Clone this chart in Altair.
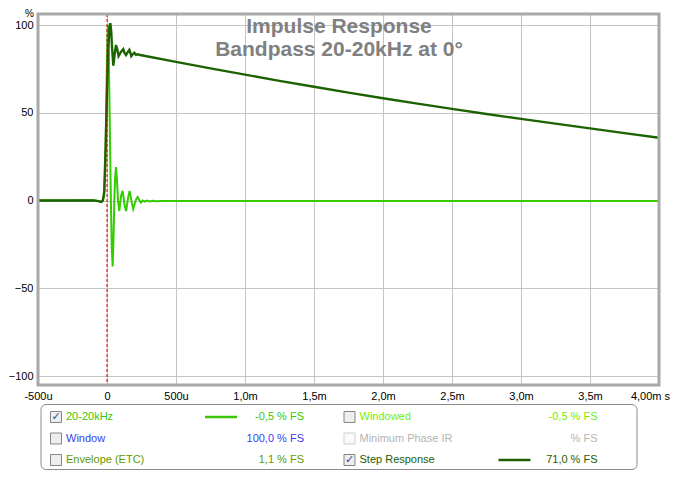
import altair as alt
import pandas as pd

# ---------------- data ----------------
imp_t = [-0.5, -0.25, -0.1, -0.065, -0.05, -0.04, -0.03, -0.02, -0.012, -0.005, 0.0, 0.006,
         0.012, 0.02, 0.028, 0.035, 0.041, 0.047, 0.053, 0.059, 0.065, 0.072, 0.08, 0.089,
         0.096, 0.103, 0.113, 0.12, 0.128, 0.138, 0.146, 0.154, 0.164, 0.172, 0.18, 0.19,
         0.2, 0.21, 0.222, 0.232, 0.246, 0.26, 0.275, 0.29, 0.31, 0.33, 0.36, 0.4, 1.0, 2.0, 4.0]
imp_v = [0, 0, 0.1, -0.2, -0.9, -0.6, 0.3, 3, 20, 55, 82, 100,
         88, 45, 0, -28, -37.5, -22, 0, 13, 19, 12, 0, -6,
         -1, 3, 5.5, 2, -3, -6, -2, 2, 5.4, 2, -1.5, -4.8,
         -2, 0.5, 2, 0.5, -1.2, 0, -0.6, 0, -0.5, -0.1, -0.4, -0.3, -0.3, -0.3, -0.3]

step_t = [-0.5, -0.25, -0.1, -0.06, -0.04, -0.03, -0.02, -0.01, 0.0, 0.01, 0.018, 0.024,
          0.03, 0.036, 0.046, 0.055, 0.065, 0.075, 0.084, 0.1, 0.118, 0.128, 0.138, 0.15,
          0.162, 0.17, 0.176, 0.188, 0.198, 0.21, 0.225, 0.24, 0.5, 0.75, 1.0, 1.25, 1.5,
          1.75, 2.0, 2.25, 2.5, 2.75, 3.0, 3.25, 3.5, 3.75, 4.0]
step_v = [0, 0, 0.1, -0.3, -0.8, 0, 5, 30, 62, 88, 99, 101,
          97, 88, 76.8, 83, 88.6, 86, 82.3, 84.5, 86.2, 84, 82.9, 84.5,
          85.8, 84, 82.3, 83.5, 84.2, 83, 83.3, 82.9, 79.0, 75.3, 71.7, 68.2, 64.8,
          61.5, 58.3, 55.2, 52.2, 49.3, 46.5, 43.8, 41.1, 38.4, 35.8]

cursor_t = [0.0]

x_ticks = [-0.5, 0, 0.5, 1.0, 1.5, 2.0, 2.5, 3.0, 3.5, 4.0]
x_tick_labels = ["-500u", "0", "500u", "1,0m", "1,5m", "2,0m", "2,5m", "3,0m", "3,5m", "4,00m s"]
y_ticks = [-100, -50, 0, 50, 100]

title_lines = ["Impulse Response", "Bandpass 20-20kHz at 0°"]

leg_names = ["20-20kHz", "Window", "Envelope (ETC)", "Windowed", "Minimum Phase IR", "Step Response"]
leg_values = ["-0,5 % FS", "100,0 % FS", "1,1 % FS", "-0,5 % FS", "% FS", "71,0 % FS"]
leg_row = [0, 1, 2, 0, 1, 2]
leg_col = [0, 0, 0, 1, 1, 1]
leg_checked = [True, False, False, False, False, True]
leg_enabled = [True, True, True, True, False, True]
leg_line = [True, False, False, False, False, True]
leg_colors = ["#3cc800", "#3c3cf0", "#5f9900", "#70f000", "#b4b4b4", "#1e6000"]

IMP_COLOR = "#33cc00"
STEP_COLOR = "#1b6300"
FONT = "Liberation Sans"

# ---------------- frames ----------------
imp_df = pd.DataFrame({"t": imp_t, "v": imp_v})
step_df = pd.DataFrame({"t": step_t, "v": step_v})
cur_df = pd.DataFrame({"t": cursor_t})
leg_df = pd.DataFrame({
    "name": leg_names, "val": leg_values, "row": leg_row, "col": leg_col,
    "checked": leg_checked, "enabled": leg_enabled, "line": leg_line,
})
one = pd.DataFrame({"k": [0]})

W, H = 621, 371

label_expr = "[" + ",".join("'" + s + "'" for s in x_tick_labels) + "][round((datum.value + 0.5) * 2)]"

xs = alt.Scale(domain=[-0.5, 4.0], nice=False, zero=False)
ys = alt.Scale(domain=[-105.1, 106.27], nice=False, zero=False)

x_axis = alt.Axis(values=x_ticks, labelExpr=label_expr, grid=True, gridColor="#c4c4c4",
                  gridWidth=1, tickSize=0, ticks=False, domain=False, labelPadding=5,
                  labelFont=FONT, labelFontSize=11, labelColor="#000000", title=None,
                  labelOverlap=False, labelFlush=False, labelBound=False, labelBaseline="top",
                  labelOffset=alt.ConditionalAxisNumber(
                      condition={"test": "datum.value >= 4", "value": -9}, value=0))
y_axis = alt.Axis(values=y_ticks, grid=True, gridColor="#c4c4c4", gridWidth=1, tickSize=0,
                  ticks=False, domain=False, labelPadding=5, labelFont=FONT, labelFontSize=11,
                  labelColor="#000000", title="%", titleAngle=0, titleX=-9, titleY=-5.5,
                  titleAlign="center", titleBaseline="top", titleFont=FONT,
                  titleFontSize=10, titleFontWeight="normal", titleColor="#000000")

imp_line = alt.Chart(imp_df).mark_line(strokeWidth=2, color=IMP_COLOR).encode(
    x=alt.X("t:Q", scale=xs, axis=x_axis),
    y=alt.Y("v:Q", scale=ys, axis=y_axis),
    order="t:Q",
)
step_line = alt.Chart(step_df).mark_line(strokeWidth=2.4, color=STEP_COLOR).encode(
    x=alt.X("t:Q", scale=xs),
    y=alt.Y("v:Q", scale=ys),
    order="t:Q",
)
cursor = alt.Chart(cur_df).mark_rule(color="#cc0000", strokeWidth=1, strokeDash=[3, 2]).encode(
    x=alt.X("t:Q", scale=xs),
)
title_text = alt.Chart(one).mark_text(
    font=FONT, fontSize=21, fontWeight="bold", color="#808080", align="center",
    baseline="alphabetic", lineHeight=23,
).encode(x=alt.value(301), y=alt.value(19), text=alt.value(title_lines))

frame = alt.Chart(one).mark_rect(fill=None, stroke="#a8a8a8", strokeWidth=3).encode(
    x=alt.value(0), x2=alt.value(W), y=alt.value(0), y2=alt.value(H)
)

main = alt.layer(imp_line, step_line, cursor, title_text, frame)

# ---------------- legend panel ----------------
lx = alt.X("col:Q", scale=alt.Scale(domain=[0, 1], range=[18, 311.5], nice=False, zero=False), axis=None)
ly = alt.Y("row:Q", scale=alt.Scale(domain=[0, 2], range=[403, 446], nice=False, zero=False), axis=None)
cscale = alt.Scale(domain=leg_names, range=leg_colors)

box = alt.Chart(one).mark_rect(fill="#ffffff", stroke="#8c8c8c", strokeWidth=1, cornerRadius=5).encode(
    x=alt.value(3), x2=alt.value(599), y=alt.value(390.5), y2=alt.value(455.5)
)
leg_base = alt.Chart(leg_df)
checkbox = leg_base.mark_square(size=121, strokeWidth=1, opacity=1).encode(
    x=lx, y=ly,
    fill=alt.condition("datum.enabled", alt.value("#eeeeee"), alt.value("#fafafa")),
    stroke=alt.condition("datum.enabled", alt.value("#858585"), alt.value("#cfcfcf")),
)
check = leg_base.transform_filter("datum.checked").mark_text(
    text="✓", font="DejaVu Sans", fontSize=11, fontWeight="bold", color="#33449a",
    align="center", baseline="middle", dy=0,
).encode(x=lx, y=ly)
labels = leg_base.mark_text(font=FONT, fontSize=11, align="left", baseline="middle", dx=10).encode(
    x=lx, y=ly, text="name:N", color=alt.Color("name:N", scale=cscale, legend=None)
)
vals = leg_base.mark_text(font=FONT, fontSize=11, align="right", baseline="middle", dx=248).encode(
    x=lx, y=ly, text="val:N", color=alt.Color("name:N", scale=cscale, legend=None)
)
samples = leg_base.transform_filter("datum.line").mark_rule(strokeWidth=2.5, xOffset=149, x2Offset=181).encode(
    x=lx, x2=alt.X2("col:Q"), y=ly,
    color=alt.Color("name:N", scale=cscale, legend=None),
)
legend_panel = alt.layer(box, checkbox, check, labels, vals, samples)

chart = alt.layer(main, legend_panel).resolve_scale(
    x="independent", y="independent", color="independent"
).properties(
    width=W, height=H,
    autosize=alt.AutoSizeParams(type="none"),
    padding={"left": 30, "top": 6, "right": 11, "bottom": 85},
    background="#ffffff",
).configure_view(stroke=None)

chart.save("out.html", embed_options={"renderer": "svg", "actions": False})
